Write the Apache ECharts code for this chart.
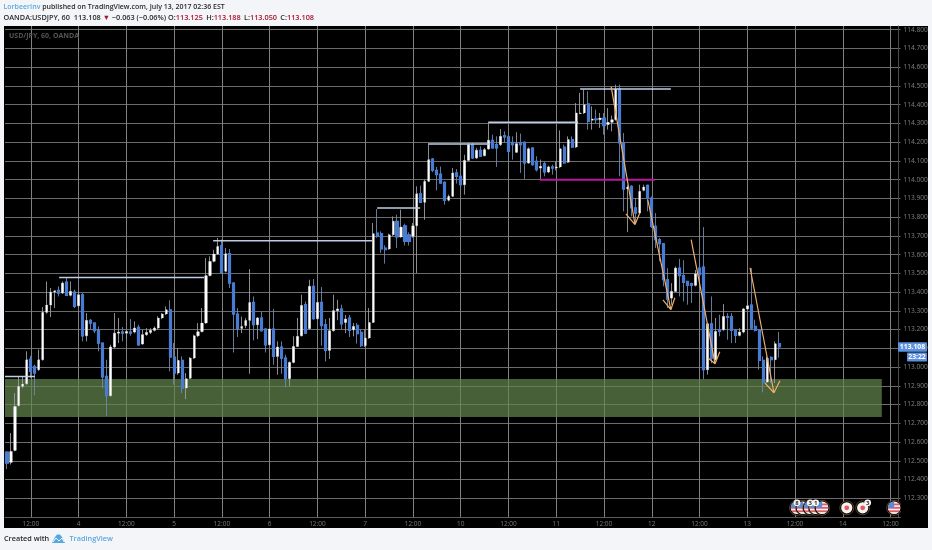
<!DOCTYPE html>
<html><head><meta charset="utf-8">
<style>html,body{margin:0;padding:0;background:#f3f5f9}#c{width:932px;height:550px}</style>
<script src="https://cdn.jsdelivr.net/npm/echarts@6/dist/echarts.min.js"></script>
</head><body><div id="c"></div>
<script>
// open, close, low, high of each hourly candle
const candles = [
[112.546,112.488,112.456,112.55],[112.491,112.55,112.48,112.648],[112.555,112.79,112.55,112.861],[112.794,112.897,112.79,112.95],[112.897,112.909,112.888,112.95],
[112.911,113.039,112.905,113.084],[113.043,112.977,112.941,113.06],[113.004,112.968,112.849,113.012],[112.986,113.039,112.98,113.093],[113.039,113.292,113.035,113.32],
[113.292,113.331,113.285,113.457],[113.331,113.4,113.267,113.422],[113.4,113.407,113.315,113.41],[113.409,113.395,113.377,113.431],[113.395,113.448,113.39,113.457],
[113.454,113.383,113.383,113.479],[113.383,113.404,113.377,113.457],[113.4,113.324,113.315,113.413],[113.327,113.386,113.32,113.404],[113.386,113.167,113.137,113.395],
[113.167,113.249,113.137,113.288],[113.249,113.235,113.2,113.256],[113.235,113.194,113.181,113.238],[113.194,113.128,113.084,113.217],[113.128,112.947,112.888,113.128],
[112.95,112.847,112.74,113.039],[112.847,113.107,112.843,113.119],[113.107,113.181,113.1,113.288],[113.181,113.187,113.128,113.262],[113.187,113.181,113.137,113.214],
[113.181,113.19,113.149,113.2],[113.187,113.181,113.167,113.256],[113.187,113.208,113.18,113.244],[113.212,113.119,113.114,113.226],[113.123,113.173,113.119,113.2],
[113.173,113.185,113.167,113.208],[113.185,113.196,113.176,113.208],[113.196,113.208,113.19,113.217],[113.208,113.262,113.2,113.271],[113.262,113.283,113.256,113.288],
[113.283,113.306,113.278,113.324],[113.306,113.053,112.977,113.356],[113.053,112.968,112.906,113.128],[112.968,113.036,112.959,113.101],[113.036,112.888,112.861,113.057],
[112.888,112.938,112.829,112.968],[112.94,113.048,112.936,113.053],[113.048,113.167,113.043,113.173],[113.167,113.189,113.16,113.235],[113.189,113.235,113.185,113.315],
[113.235,113.488,113.231,113.582],[113.488,113.564,113.484,113.591],[113.564,113.603,113.559,113.626],[113.603,113.644,113.6,113.689],[113.648,113.505,113.498,113.68],
[113.511,113.605,113.505,113.635],[113.605,113.448,113.422,113.63],[113.448,113.283,113.078,113.452],[113.283,113.206,113.16,113.315],[113.206,113.217,113.181,113.269],
[113.221,113.249,113.208,113.261],[113.249,113.345,112.964,113.523],[113.345,113.226,113.142,113.377],[113.226,113.262,113.149,113.267],[113.262,113.194,113.19,113.297],
[113.203,113.119,113.078,113.206],[113.119,113.203,113.114,113.206],[113.203,113.057,113.012,113.31],[113.057,113.107,112.959,113.137],[113.107,113.048,112.964,113.137],
[113.048,112.938,112.893,113.066],[112.938,113.025,112.897,113.03],[113.025,113.11,113.02,113.164],[113.11,113.164,113.107,113.262],[113.167,113.329,113.164,113.386],
[113.333,113.181,113.176,113.35],[113.205,113.431,113.2,113.466],[113.431,113.258,113.253,113.47],[113.258,113.345,113.253,113.386],[113.345,113.221,113.114,113.427],
[113.226,113.089,113.03,113.256],[113.089,113.194,113.043,113.262],[113.194,113.301,113.19,113.386],[113.301,113.31,113.25,113.359],[113.31,113.231,113.203,113.333],
[113.238,113.256,113.181,113.278],[113.262,113.196,113.16,113.278],[113.199,113.217,113.164,113.235],[113.222,113.178,113.125,113.235],[113.185,113.114,113.107,113.2],
[113.114,113.155,113.107,113.2],[113.155,113.238,113.151,113.315],[113.238,113.712,113.235,113.769],[113.715,113.698,113.69,113.843],[113.712,113.63,113.609,113.724],
[113.635,113.626,113.552,113.65],[113.63,113.706,113.626,113.712],[113.706,113.778,113.7,113.804],[113.778,113.694,113.635,113.813],[113.694,113.747,113.69,113.84],
[113.754,113.671,113.649,113.765],[113.706,113.671,113.649,113.719],[113.698,113.754,113.69,113.769],[113.754,113.925,113.502,113.964],[113.925,113.879,113.875,113.968],
[113.879,113.991,113.786,114.0],[113.991,114.107,113.987,114.187],[114.11,114.05,114.04,114.116],[114.05,114.027,113.943,114.068],[114.03,113.982,113.979,114.07],
[113.986,113.89,113.867,113.991],[113.89,113.911,113.884,113.92],[113.911,114.036,113.907,114.062],[114.036,114.018,113.979,114.057],[114.018,113.973,113.968,114.04],
[113.973,114.103,113.92,114.133],[114.103,114.187,114.098,114.196],[114.187,114.116,114.11,114.196],[114.116,114.157,114.11,114.17],[114.157,114.125,114.121,114.178],
[114.128,114.16,114.125,114.169],[114.164,114.21,114.16,114.302],[114.21,114.169,114.169,114.24],[114.187,114.169,114.068,114.231],[114.187,114.231,114.18,114.27],
[114.235,114.228,114.196,114.258],[114.228,114.151,114.098,114.24],[114.199,114.187,114.107,114.231],[114.146,114.192,114.142,114.253],[114.196,114.187,114.036,114.246],
[114.199,114.089,114.004,114.204],[114.089,114.165,114.085,114.172],[114.169,114.08,114.075,114.172],[114.098,114.053,114.044,114.125],[114.062,114.071,114.0,114.107],
[114.085,114.041,114.018,114.098],[114.041,114.068,114.036,114.075],[114.068,114.062,114.027,114.08],[114.062,114.068,114.05,114.098],[114.068,114.165,114.062,114.263],
[114.174,114.089,114.085,114.187],[114.093,114.214,114.089,114.231],[114.214,114.174,114.169,114.231],[114.174,114.356,114.169,114.409],[114.352,114.356,114.35,114.463],
[114.356,114.4,114.35,114.48],[114.404,114.311,114.267,114.472],[114.317,114.324,114.267,114.391],[114.324,114.32,114.302,114.374],[114.32,114.329,114.276,114.356],
[114.329,114.288,114.24,114.356],[114.294,114.306,114.267,114.382],[114.306,114.32,114.258,114.342],[114.32,114.484,114.315,114.507],[114.484,114.196,114.018,114.507],
[114.196,113.95,113.831,114.249],[113.95,113.961,113.72,113.97],[113.964,113.849,113.804,113.97],[113.849,113.822,113.769,113.902],[113.822,113.938,113.818,113.973],
[113.943,113.961,113.938,113.973],[113.97,113.902,113.831,113.973],[113.902,113.751,113.742,113.911],[113.751,113.68,113.635,113.822],[113.68,113.658,113.564,113.69],
[113.658,113.466,113.431,113.662],[113.466,113.363,113.315,113.528],[113.368,113.404,113.333,113.448],[113.404,113.528,113.4,113.537],[113.528,113.488,113.377,113.577],
[113.488,113.452,113.35,113.57],[113.457,113.436,113.333,113.457],[113.445,113.436,113.342,113.45],[113.436,113.498,113.43,113.518],[113.528,113.493,113.395,113.582],
[113.534,112.986,112.936,113.747],[112.986,113.231,112.96,113.235],[113.231,113.048,113.021,113.377],[113.039,113.19,113.035,113.262],[113.199,113.19,113.164,113.279],
[113.199,113.27,113.194,113.336],[113.27,113.265,113.146,113.288],[113.27,113.196,113.128,113.288],[113.196,113.169,113.128,113.203],[113.169,113.187,113.164,113.208],
[113.187,113.31,113.18,113.315],[113.31,113.327,113.306,113.359],[113.331,113.208,113.2,113.528],[113.217,113.196,113.19,113.253],[113.199,113.036,112.986,113.203],
[113.036,112.92,112.865,113.057],[112.92,113.048,112.915,113.057],[113.052,113.039,112.915,113.057],[113.039,113.125,112.915,113.137],[113.125,113.108,113.05,113.188]
];
const tickLabels = ['12:00','4','12:00','5','12:00','6','12:00','7','12:00','10','12:00','11','12:00','12','12:00','13','12:00','14','12:00'];
const slotCount = 225;
const priceMin = 112.2, priceMax = 114.82, priceStep = 0.1;
// horizontal levels: [fromHour, toHour, price]
const levels = [[-0.5,7,112.95],[13.1,49.5,113.478],[51.8,91.7,113.674],[93,103.8,113.849],[105.8,121.4,114.19],[120.9,143.5,114.306],[144,166.8,114.484]];
const magentaLevel = [133.9,162.8,114.0];
// orange arrows: shaft start, tip, head left, head right as [hour, price]
const arrows = [
 [[151.8,114.496],[157.8,113.76],[155.5,113.818],[159,113.824]],
 [[161,113.893],[166.8,113.306],[164.8,113.359],[167.8,113.37]],
 [[171.9,113.68],[177.9,113.018],[176.1,113.05],[179.1,113.082]],
 [[186.7,113.53],[192.7,112.863],[190.4,112.916],[194.2,112.927]]
];
const zone = {fromHour:-0.5,toHour:219.8,top:112.936,bottom:112.733};
const eventPrice = 112.249;
const flagEvents = [[198.5,'8'],[200,''],[201.8,'3'],[203.2,'1'],[204.8,''],[222.9,'']];
const dotEvents = [[211,''],[215,'3']];
const changeText = '−0.063 (−0.06%)';
const lastClose = candles[candles.length-1][1];

const FONT = '"Open Sans", sans-serif';
const categories = Array.from({length:slotCount},(_,i)=> i%12===6 ? tickLabels[(i-6)/12] : 'h'+i);
const bodies = candles.map(c=>[c[0],c[1],Math.min(c[0],c[1]),Math.max(c[0],c[1])]);
const levelData = []; levels.forEach(l=>{levelData.push([l[0],l[2]],[l[1],l[2]],null);});
const arrowData = []; arrows.forEach(a=>{arrowData.push(a[0],a[1],null,a[2],a[1],a[3],null);});
const gap = p => p===null ? ['-','-'] : p;

const chart = echarts.init(document.getElementById('c'),null,{renderer:'canvas'});
const grid = {left:5,top:26,width:895.5,height:491,containLabel:false};

function flagItem(params, api){
  const c = api.coord([api.value(0), api.value(1)]);
  const r = 6.3, kids = [];
  kids.push({type:'circle',shape:{cx:c[0],cy:c[1],r:r+1.2},style:{fill:'#000',stroke:'#7a5a33',lineWidth:0.7}});
  kids.push({type:'circle',shape:{cx:c[0],cy:c[1],r:r},style:{fill:'#f4f1f1'}});
  [-3.4,0,3.4].forEach(dy=>{const w=Math.sqrt(r*r-dy*dy)*0.96;kids.push({type:'rect',shape:{x:c[0]-w,y:c[1]+dy-0.9,width:2*w,height:1.8},style:{fill:'#e0596b'}});});
  kids.push({type:'sector',shape:{cx:c[0],cy:c[1],r:r,r0:0,startAngle:Math.PI,endAngle:Math.PI*1.5},style:{fill:'#5b8bd0'}});
  return {type:'group',children:kids};
}
function dotItem(params, api){
  const c = api.coord([api.value(0), api.value(1)]);
  return {type:'group',children:[
   {type:'circle',shape:{cx:c[0],cy:c[1],r:7},style:{fill:'#000',stroke:'#7a5a33',lineWidth:0.7}},
   {type:'circle',shape:{cx:c[0],cy:c[1],r:5.6},style:{fill:'#f5f3ec'}},
   {type:'circle',shape:{cx:c[0],cy:c[1],r:2.4},style:{fill:'#e8566a'}}
  ]};
}
function badgeItem(params, api){
  const c = api.coord([api.value(0), api.value(1)]);
  const dx = api.value(3), t = String(api.value(2));
  return {type:'group',children:[
   {type:'circle',shape:{cx:c[0]+dx,cy:c[1]-5,r:3.4},style:{fill:'#f4f4f4'}},
   {type:'text',style:{x:c[0]+dx,y:c[1]-5,text:t,fill:'#333',font:'bold 6px '+FONT,align:'center',verticalAlign:'middle'}}
  ]};
}

chart.setOption({
 animation:false,
 backgroundColor:'#f3f5f9',
 grid:grid,
 xAxis:[
  {type:'category',data:categories,boundaryGap:true,
   axisTick:{show:false},axisLine:{lineStyle:{color:'#5c5c5c',width:1}},
   axisLabel:{interval:(i)=>i%12===6,color:'#7a7a7a',fontSize:6.5,margin:3.5,fontFamily:FONT,hideOverlap:false},
   splitLine:{show:true,alignWithLabel:true,interval:(i)=>i%12===6,lineStyle:{color:'#808080',width:1}}},
  {type:'value',min:-0.5,max:slotCount-0.5,show:false,splitLine:{show:false}}
 ],
 yAxis:[{type:'value',position:'right',min:priceMin,max:priceMax,interval:priceStep,offset:-2,
   axisLine:{show:true,onZero:false,lineStyle:{color:'#4c4c4c',width:1}},axisTick:{show:false},
   axisLabel:{color:'#808080',fontSize:6.6,margin:5,fontFamily:FONT,showMaxLabel:false,showMinLabel:false,
     formatter:v=>Math.abs(v*10-Math.round(v*10))<1e-6?v.toFixed(3):''},
   splitLine:{show:true,showMaxLine:false,lineStyle:{color:'#6c6c6c',width:1}}}],
 series:[
  {name:'zone',type:'line',xAxisIndex:1,data:[],silent:true,z:1,
   markArea:{silent:true,itemStyle:{color:'rgba(98,133,78,0.72)'},
    data:[[{xAxis:zone.fromHour,yAxis:zone.top},{xAxis:zone.toHour,yAxis:zone.bottom}]]}},
  {name:'wicks',type:'candlestick',barWidth:2,data:candles,z:2,clip:true,
   itemStyle:{color:'rgba(0,0,0,0)',color0:'rgba(0,0,0,0)',borderColor:'#9a9da0',borderColor0:'#6f88ad',borderWidth:0.9}},
  {name:'bodies',type:'candlestick',barWidth:2.6,data:bodies,z:3,clip:true,
   itemStyle:{color:'#ffffff',color0:'#487cd4',borderColor:'rgba(0,0,0,0)',borderColor0:'#487cd4',borderWidth:1.2}},
  {name:'levels',type:'line',xAxisIndex:1,data:levelData.map(gap),showSymbol:false,connectNulls:false,z:4,
   lineStyle:{color:'#bdcde8',width:1.5},silent:true},
  {name:'magenta',type:'line',xAxisIndex:1,data:[[magentaLevel[0],magentaLevel[2]],[magentaLevel[1],magentaLevel[2]]],showSymbol:false,z:4,
   lineStyle:{color:'#b8189f',width:2},silent:true},
  {name:'arrows',type:'line',xAxisIndex:1,data:arrowData.map(gap),showSymbol:false,connectNulls:false,z:5,
   lineStyle:{color:'#eeb06c',width:1.2},silent:true},
  {name:'flags',type:'custom',xAxisIndex:1,clip:true,z:5,silent:true,renderItem:flagItem,
   data:flagEvents.map(e=>[e[0],eventPrice,e[1]])},
  {name:'dots',type:'custom',xAxisIndex:1,clip:true,z:5,silent:true,renderItem:dotItem,
   data:dotEvents.map(e=>[e[0],eventPrice,e[1]])},
  {name:'badges',type:'custom',xAxisIndex:1,clip:true,z:6,silent:true,renderItem:badgeItem,
   data:flagEvents.concat(dotEvents).filter(e=>e[1]).map(e=>[e[0],eventPrice,e[1],e[1]==='3'&&e[0]>210?5:0])}
 ]
});

const tagY = chart.convertToPixel({yAxisIndex:0}, lastClose);
const H1 = '600 7.3px '+FONT;
const H2 = '600 7px '+FONT;
chart.setOption({graphic:[
 {type:'rect',z:-5,silent:true,shape:{x:4,y:26,width:924,height:502},style:{fill:'#000'}},
 {type:'text',z:10,silent:true,style:{x:3.5,y:7,text:'{b|LorbeerInv}{d| published on TradingView.com, July 13, 2017 02:36 EST}',verticalAlign:'middle',
   rich:{b:{fill:'#5aa9dc',font:H2},d:{fill:'#2a2a2a',font:H2}}}},
 {type:'text',z:10,silent:true,style:{x:3.5,y:18,text:'{d|OANDA:USDJPY, 60  113.108 }{r|▼}{d| '+changeText+' O:}{r|113.125} {d|H:}{r|113.188} {d|L:}{r|113.050} {d|C:}{r|113.108}',verticalAlign:'middle',
   rich:{d:{fill:'#2a2a2a',font:H1},r:{fill:'#a9142d',font:H1}}}},
 {type:'text',z:10,silent:true,style:{x:9,y:36,text:'USD/JPY, 60, OANDA',fill:'#555',font:'bold 7px '+FONT,verticalAlign:'middle'}},
 {type:'rect',z:10,silent:true,shape:{x:898,y:tagY-4.6,width:29,height:9.4,r:1},style:{fill:'#5c92e0'}},
 {type:'text',z:11,silent:true,style:{x:912.5,y:tagY,text:lastClose.toFixed(3),fill:'#fff',font:'bold 6.8px '+FONT,align:'center',verticalAlign:'middle'}},
 {type:'rect',z:10,silent:true,shape:{x:907,y:tagY+5.6,width:20,height:9,r:1},style:{fill:'#5c92e0'}},
 {type:'text',z:11,silent:true,style:{x:917,y:tagY+10,text:'23:22',fill:'#fff',font:'bold 6.8px '+FONT,align:'center',verticalAlign:'middle'}},
 {type:'text',z:10,silent:true,style:{x:4,y:539,text:'Created with',fill:'#2a2a2a',font:'600 7.3px '+FONT,verticalAlign:'middle'}},
 {type:'polygon',z:10,silent:true,shape:{points:[[52,543],[55,537],[57,534.5],[60,534.5],[62,537],[65,543]]},style:{fill:'#53a9e0'}},
 {type:'polyline',z:11,silent:true,shape:{points:[[53,542],[56,538],[59,541],[62,538],[64,542]]},style:{fill:'none',stroke:'#f3f5f9',lineWidth:1}},
 {type:'text',z:10,silent:true,style:{x:69.5,y:539,text:'TradingView',fill:'#5aa9dc',font:'600 7.3px '+FONT,verticalAlign:'middle'}}
]});
</script></body></html>
